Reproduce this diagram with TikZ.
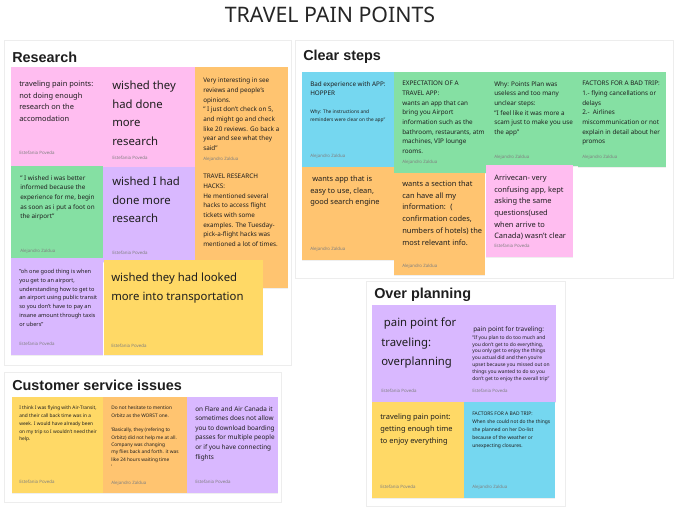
\documentclass[tikz,border=0pt]{standalone}
\usepackage{fontspec}
\setmainfont{Noto Sans}
\newfontfamily\headfont{Liberation Sans}
\usetikzlibrary{shadows}
\definecolor{pinknote}{HTML}{FFBDF0}
\definecolor{greennote}{HTML}{85E0A3}
\definecolor{orangenote}{HTML}{FFC470}
\definecolor{yellownote}{HTML}{FFD966}
\definecolor{purplenote}{HTML}{D9B8FF}
\definecolor{bluenote}{HTML}{75D7F0}
\definecolor{inkdark}{HTML}{1E1E1E}
\tikzset{
  panel/.style={fill=white, draw=black!7, drop shadow={shadow xshift=0pt, shadow yshift=-0.8pt, opacity=0.12}},
  sticky/.style={fill=#1, drop shadow={shadow xshift=0.3pt, shadow yshift=-0.6pt, opacity=0.12}},
  heading/.style={anchor=west, inner sep=0pt, text=inkdark, font=\headfont\bfseries\fontsize{10.8}{12}\selectfont},
  notetext/.style={anchor=north west, inner sep=0pt, align=left, text=inkdark},
  notebig/.style={notetext, font=\fontsize{8.5}{13.9}\selectfont},
  notemid/.style={notetext, font=\fontsize{5.6}{8.8}\selectfont},
  notesmall/.style={notetext, font=\fontsize{4.75}{7.25}\selectfont},
  notetiny/.style={notetext, font=\fontsize{3.6}{5.8}\selectfont},
  notemicro/.style={notetext, font=\fontsize{3.7}{5.1}\selectfont},
  noteby/.style={anchor=west, inner sep=0pt, text=black!50, font=\fontsize{3.3}{4}\selectfont}
}
\begin{document}
\begin{tikzpicture}[x=0.75pt, y=-0.75pt]
\useasboundingbox (0,0) rectangle (677,518);
\fill[white] (0,0) rectangle (677,518);
\node[inner sep=0pt, text=black!85, font=\fontsize{16}{18}\selectfont] (title) at (330,15) {TRAVEL PAIN POINTS};

% panels
\path[panel] (4,40) rectangle (291,365);
\path[panel] (4,372) rectangle (281,502);
\path[panel] (295,40) rectangle (673,278);
\path[panel] (366,281) rectangle (565,506);

\node[heading] (research) at (12,57) {Research};
\node[heading] (clearsteps) at (303,57) {Clear steps};
\node[heading] (service) at (12,385) {Customer service issues};
\node[heading] (overplan) at (374,295) {Over planning};

% research
\fill[sticky=pinknote] (11,67) rectangle (103,166);
\fill[sticky=pinknote] (103,67) rectangle (195,168);
\fill[sticky=orangenote] (195,67) rectangle (288,168);
\fill[sticky=orangenote] (195,168) rectangle (288,288);
\fill[sticky=greennote] (11,166) rectangle (103,258);
\fill[sticky=purplenote] (103,167) rectangle (195,262);
\fill[sticky=purplenote] (11,258) rectangle (103,355);
\fill[sticky=yellownote] (104,260) rectangle (263,355);

\node[notemid] (accomodation) at (19,80.5) {traveling pain points:\\not doing enough\\research on the\\accomodation};
\node[noteby] (accomodation-by) at (19,153) {Estefania Poveda};
\node[notebig] (doneresearch) at (112,81) {wished they\\had done\\more\\research};
\node[noteby] (doneresearch-by) at (112,158) {Estefania Poveda};
\node[notesmall] (reviews) at (203,78) {Very interesting in see\\reviews and people's\\opinions.\\" I just don't check on 5,\\and might go and check\\like 20 reviews. Go back a\\year and see what they\\said"};
\node[noteby] (reviews-by) at (203,159) {Alejandro Zaldua};
\node[notesmall] (hacks) at (203,174) {TRAVEL RESEARCH\\HACKS:\\He mentioned several\\hacks to access flight\\tickets with some\\examples. The Tuesday-\\pick-a-flight hacks was\\mentioned a lot of times.};
\node[notesmall] (informed) at (20,175) {" I wished i was better\\informed because the\\experience for me, begin\\as soon as i put a foot on\\the airport"};
\node[noteby] (informed-by) at (20,251) {Alejandro Zaldua};
\node[notebig] (hadresearch) at (112,177) {wished I had\\done more\\research};
\node[noteby] (hadresearch-by) at (112,253) {Estefania Poveda};
\node[notetext, font=\fontsize{4.2}{6.6}\selectfont] (transit) at (19,269) {"oh one good thing is when\\you get to an airport,\\understanding how to get to\\an airport using public transit\\so you don't have to pay an\\insane amount through taxis\\or ubers"};
\node[noteby] (transit-by) at (19,344) {Estefania Poveda};
\node[notebig] (transport) at (111,273) {wished they had looked\\more into transportation};
\node[noteby] (transport-by) at (111,346) {Estefania Poveda};

% customer service issues
\fill[sticky=yellownote] (12,397) rectangle (103,493);
\fill[sticky=orangenote] (103,397) rectangle (187,493);
\fill[sticky=purplenote] (187,397) rectangle (278,493);

\node[notetiny] (callback) at (19,406) {I think I was flying with Air-Transit,\\and their call back time was in a\\week. I would have already been\\on my trip so I wouldn't need their\\help.};
\node[noteby] (callback-by) at (19,482) {Estefania Poveda};
\node[notetext, font=\fontsize{3.6}{5.5}\selectfont] (orbitz) at (111,406) {Do not hesitate to mention\\Orbitz as the WORST one.\\[5.5pt]'Basically, they (refering to\\Orbitz) did not help me at all.\\Company was changing\\my flies back and forth. it was\\like 24 hours waiting time\\'};
\node[noteby] (orbitz-by) at (111,483) {Alejandro Zaldua};
\node[notetext, font=\fontsize{4.8}{7.2}\selectfont] (boarding) at (195,406) {on Flare and Air Canada it\\sometimes does not allow\\you to download boarding\\passes for multiple people\\or if you have connecting\\flights};
\node[noteby] (boarding-by) at (195,482) {Estefania Poveda};

% clear steps
\fill[sticky=bluenote] (302,72) rectangle (394,167);
\fill[sticky=greennote] (394,72) rectangle (486,173);
\fill[sticky=greennote] (486,72) rectangle (578,166);
\fill[sticky=greennote] (578,72) rectangle (666,167);
\fill[sticky=orangenote] (302,167) rectangle (394,260);
\fill[sticky=orangenote] (394,173) rectangle (485,275);
\fill[sticky=pinknote] (486,165) rectangle (573,257);

\node[notesmall] (hopper) at (310,81) {Bad experience with APP:\\HOPPER};
\node[notetiny] (hopperwhy) at (310,110) {Why: The instructions and\\reminders were clear on the app"};
\node[noteby] (hopper-by) at (310,156) {Alejandro Zaldua};
\node[notesmall] (expect) at (402,81) {EXPECTATION OF A\\TRAVEL APP:\\wants an app that can\\bring you Airport\\information such as the\\bathroom, restaurants, atm\\machines, VIP lounge\\rooms.};
\node[noteby] (expect-by) at (402,162) {Alejandro Zaldua};
\node[notesmall] (points) at (494,81) {Why: Points Plan was\\useless and too many\\unclear steps:\\"I feel like it was more a\\scam just to make you use\\the app"};
\node[noteby] (points-by) at (494,157) {Alejandro Zaldua};
\node[notesmall] (factors) at (582,81) {FACTORS FOR A BAD TRIP:\\1.- flying cancellations or\\delays\\2.-~ Airlines\\miscommunication or not\\explain in detail about her\\promos};
\node[noteby] (factors-by) at (582,157) {Alejandro Zaldua};
\node[notemid] (easyapp) at (310,175.5) {\hspace{1.5pt}wants app that is\\easy to use, clean,\\good search engine};
\node[noteby] (easyapp-by) at (310,249) {Alejandro Zaldua};
\node[notemid] (section) at (402,180.5) {wants a section that\\can have all my\\information:~ (\\confirmation codes,\\numbers of hotels) the\\most relevant info.};
\node[noteby] (section-by) at (402,266) {Alejandro Zaldua};
\node[notemid] (arrivecan) at (494,174.5) {Arrivecan- very\\confusing app, kept\\asking the same\\questions(used\\when arrive to\\Canada) wasn't clear};
\node[noteby] (arrivecan-by) at (494,246) {Estefania Poveda};

% over planning
\fill[sticky=purplenote] (372,305) rectangle (464,402);
\fill[sticky=purplenote] (464,305) rectangle (556,402);
\fill[sticky=yellownote] (372,402) rectangle (464,498);
\fill[sticky=bluenote] (464,402) rectangle (555,498);

\node[notetext, font=\fontsize{8.5}{14.6}\selectfont] (overplanning) at (381,318) {\hspace{2pt}pain point for\\traveling:\\overplanning};
\node[noteby] (overplanning-by) at (381,391) {Estefania Poveda};
\node[notetext, font=\fontsize{4.8}{6}\selectfont] (plantitle) at (473,326) {pain point for traveling:};
\node[notemicro] (plantoo) at (472,335.3) {"If you plan to do too much and\\you don't get to do everything,\\you only get to enjoy the things\\you actual did and then you're\\upset because you missed out on\\things you wanted to do so you\\don't get to enjoy the overall trip"};
\node[noteby] (plantoo-by) at (472,391) {Estefania Poveda};
\node[notemid] (enjoy) at (380,413.6) {traveling pain point:\\getting enough time\\to enjoy everything};
\node[noteby] (enjoy-by) at (380,487) {Estefania Poveda};
\node[notetext, font=\fontsize{3.7}{5.85}\selectfont] (dolist) at (472,412) {FACTORS FOR A BAD TRIP:\\When she could not do the things\\she planned on her Do-list\\because of the weather or\\unexpecting closures.};
\node[noteby] (dolist-by) at (472,487) {Alejandro Zaldua};
\end{tikzpicture}
\end{document}
